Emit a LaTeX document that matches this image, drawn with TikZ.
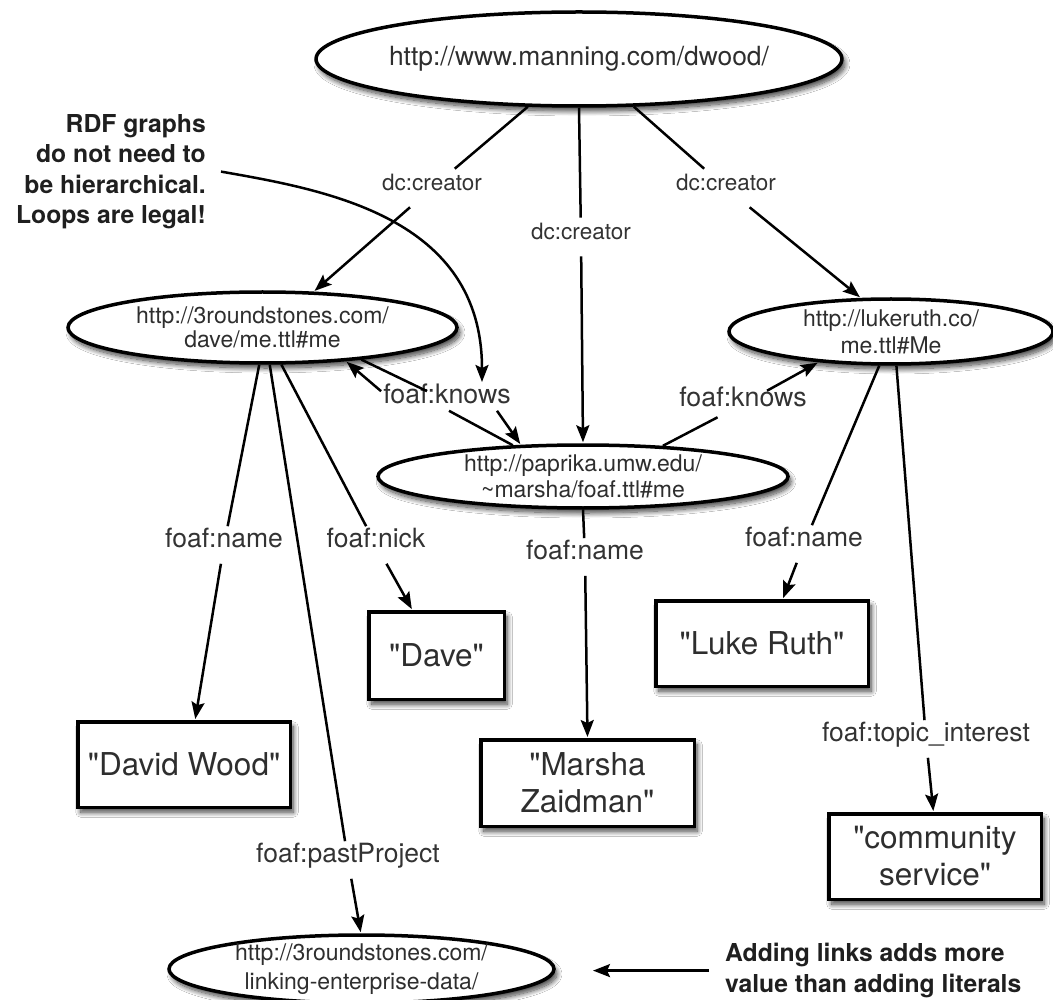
\documentclass[tikz,border=0pt]{standalone}
\usepackage{fontspec}
\setmainfont{TeX Gyre Heros}[Ligatures=TeXOff]
\usetikzlibrary{arrows.meta,shapes.geometric,shadows.blur}

\begin{document}
\begin{tikzpicture}[x=1pt,y=-1pt,
  shd/.style={blur shadow={shadow xshift=3pt,shadow yshift=-5pt,shadow blur radius=5pt,shadow blur steps=12,shadow opacity=75}},
  uri/.style={ellipse,draw=black,line width=3.5pt,fill=white,inner sep=-4pt,align=center,shd,text=black!82},
  lit/.style={rectangle,draw=black,line width=3.5pt,fill=white,inner sep=0pt,align=center,shd,text=black!82,
    font=\fontsize{31.5}{37}\selectfont,minimum width=212.5pt,minimum height=85.5pt},
  dclab/.style={inner xsep=3pt,inner ysep=14.5pt,text=black!80,font=\fontsize{22.5}{26}\selectfont,text height=0.72em,text depth=0.2em},
  plab/.style={inner xsep=3pt,inner ysep=14pt,text=black!80,font=\fontsize{26.5}{30}\selectfont,text height=0.72em,text depth=0.2em},
  klab/.style={inner xsep=2pt,inner ysep=5pt,text=black!80,font=\fontsize{26.8}{30}\selectfont,text height=0.72em,text depth=0.2em},
  edge/.style={line width=2.5pt,draw=black},
  arr/.style={edge,-{Stealth[length=17pt,width=13pt,inset=3pt]},shorten >=1pt},
  note/.style={font=\bfseries\fontsize{24.7}{30.3}\selectfont,text=black!88,inner ysep=0pt}
]
\useasboundingbox (0,0) rectangle (1053,1000);
\clip (0,0) rectangle (1053,1000);
\fill[white] (0,0) rectangle (1053,1000);

% resource nodes
\node[uri,minimum width=508pt,minimum height=94pt,font=\fontsize{26.4}{30}\selectfont] (top) at (579,59) {http://www.manning.com/dwood/};
\node[uri,minimum width=389pt,minimum height=71pt,font=\fontsize{23}{24}\selectfont] (dave) at (262.5,327.5) {http://3roundstones.com/\\dave/me.ttl\#me};
\node[uri,minimum width=324pt,minimum height=65pt,font=\fontsize{23}{27}\selectfont] (luke) at (891,331.5) {http://lukeruth.co/\\me.ttl\#Me};
\node[uri,minimum width=410pt,minimum height=63pt,font=\fontsize{23}{26}\selectfont] (marsha) at (583,476.5) {http://paprika.umw.edu/\\\textasciitilde marsha/foaf.ttl\#me};
\node[uri,minimum width=385pt,minimum height=68pt,font=\fontsize{23}{29}\selectfont] (proj) at (361.5,969) {http://3roundstones.com/\\linking-enterprise-data/};

% literal nodes
\node[lit] (dw) at (184,764.5) {"David Wood"};
\node[lit,minimum width=135.5pt,minimum height=87.5pt] (dv) at (436.5,655.5) {"Dave"};
\node[lit] (lr) at (762,643.5) {"Luke Ruth"};
\node[lit,minimum width=213.5pt,minimum height=86.5pt] (mz) at (587.5,783) {"Marsha\\Zaidman"};
\node[lit] (cs) at (935,856.5) {"community\\service"};

% edge labels
\node[dclab] (c1) at (432,188) {dc:creator};
\node[dclab] (c2) at (581,237) {dc:creator};
\node[dclab] (c3) at (726,188) {dc:creator};
\node[klab] (k1) at (447,401) {foaf:knows};
\node[klab,inner ysep=8.5pt] (k2) at (743,404) {foaf:knows};
\node[plab] (n1) at (224,545) {foaf:name};
\node[plab] (nk) at (376,545) {foaf:nick};
\node[plab] (n2) at (585,557) {foaf:name};
\node[plab] (n3) at (804,544) {foaf:name};
\node[plab] (ti) at (926,739) {foaf:topic\_interest};
\node[plab] (pp) at (348,860) {foaf:pastProject};

% dc:creator edges
\draw[edge] (top.223) -- (c1);
\draw[arr] (c1) -- (dave.35);
\draw[edge] (top.south) -- (c2);
\draw[arr] (c2) -- (marsha.north);
\draw[edge] (top.-41) -- (c3);
\draw[arr] (c3) -- (luke.132);

% foaf:knows edges
\draw[edge] (dave.-18.5) -- ([xshift=-20pt]k1.north);
\draw[arr] ([xshift=50pt]k1.south) -- (marsha.153);
\draw[edge] (marsha.156) -- ([xshift=2pt]k1.south);
\draw[arr] (k1.north west) -- (dave.-22);
\draw[edge] (marsha.21) -- (k2);
\draw[arr] (k2) -- (luke.-157);

% property edges
\draw[edge] (dave.-95) -- (n1);
\draw[arr] (n1) -- (dw.76);
\draw[edge] (dave.-63) -- (nk);
\draw[arr] (nk) -- (dv.118);
\draw[edge] (dave.-79) -- (pp);
\draw[arr] (pp) -- (proj.91);
\draw[edge] (marsha.south) -- (n2);
\draw[arr] (n2) -- (mz.north);
\draw[edge] (luke.-109) -- (n3);
\draw[arr] (n3) -- (lr.65);
\draw[edge] (luke.-81.5) -- (ti);
\draw[arr] (ti) -- (cs.92.5);

% annotations
\node[note,align=right,anchor=east,inner xsep=15pt] (rdf) at (221,171.6) {RDF graphs\\do not need to\\be hierarchical.\\Loops are legal!};
\coordinate (loop) at (482,383);
\draw[arr] (rdf.east) .. controls (326,190) and (482,217) .. (loop);

\node[note,align=left,anchor=west,inner xsep=16pt,font=\bfseries\fontsize{24.7}{31}\selectfont] (add) at (709,970.6) {Adding links adds more\\value than adding literals};
\coordinate (addtip) at (592,970.6);
\draw[arr] (add.west) -- (addtip);
\end{tikzpicture}
\end{document}
